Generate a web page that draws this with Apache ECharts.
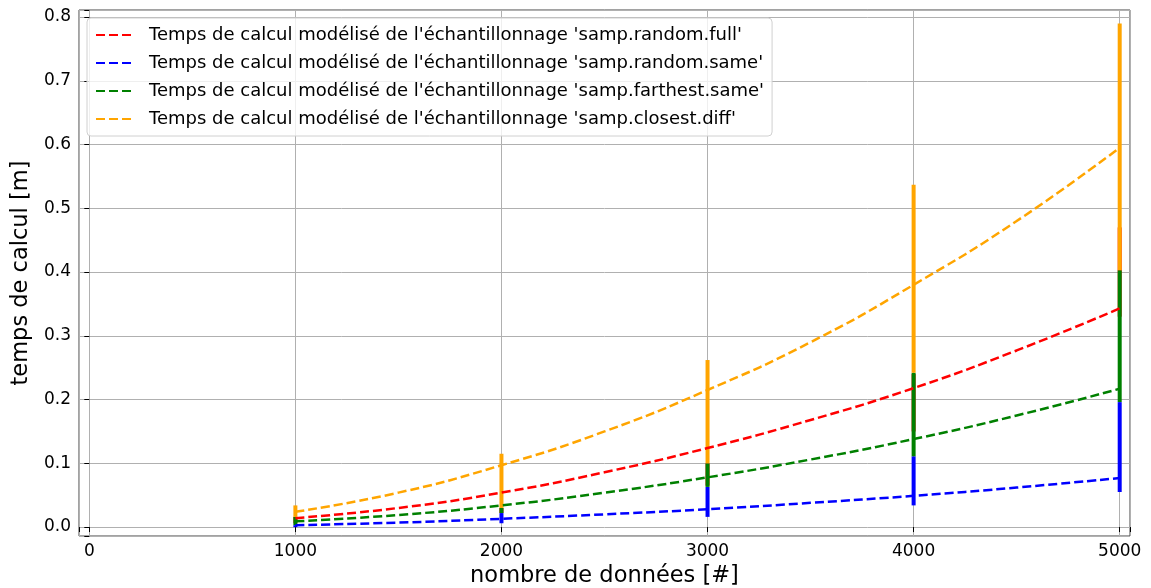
<!DOCTYPE html>
<html>
<head>
<meta charset="utf-8">
<script src="https://cdn.jsdelivr.net/npm/echarts@6/dist/echarts.min.js"></script>
<style>
  html, body { margin: 0; padding: 0; background: #fff; }
  #chart { width: 1151px; height: 588px; }
</style>
</head>
<body>
<div id="chart"></div>
<script>
// modelled curves, read every 500 points
const xModel = [1000, 1500, 2000, 2500, 3000, 3500, 4000, 4500, 5000];
const modelFull = [0.014, 0.030, 0.054, 0.086, 0.124, 0.168, 0.218, 0.277, 0.343];
const modelRandSame = [0.003, 0.007, 0.013, 0.020, 0.028, 0.038, 0.049, 0.062, 0.077];
const modelFarthest = [0.009, 0.019, 0.034, 0.054, 0.078, 0.106, 0.138, 0.175, 0.217];
const modelClosest = [0.024, 0.054, 0.097, 0.150, 0.215, 0.290, 0.380, 0.480, 0.595];

// measured points: [n, lowest, highest] per strip (red mostly hidden under the others)
const xMeas = [1000, 2000, 3000, 4000, 5000];
const measFull = [[0.006, 0.016], [0.022, 0.030], [0.065, 0.100], [0.150, 0.240], [0.330, 0.470]];
const measRandSame = [[0.000, 0.003], [0.006, 0.022], [0.016, 0.063], [0.034, 0.111], [0.055, 0.196]];
const measFarthest = [[0.003, 0.016], [0.022, 0.030], [0.063, 0.100], [0.111, 0.242], [0.196, 0.403]];
const measClosest = [[0.016, 0.034], [0.030, 0.115], [0.100, 0.262], [0.242, 0.537], [0.403, 0.790]];

const labels = [
  "Temps de calcul modélisé de l'échantillonnage 'samp.random.full'",
  "Temps de calcul modélisé de l'échantillonnage 'samp.random.same'",
  "Temps de calcul modélisé de l'échantillonnage 'samp.farthest.same'",
  "Temps de calcul modélisé de l'échantillonnage 'samp.closest.diff'"
];
const colors = ['#ff0000', '#0000ff', '#008000', '#ffa500'];

const chart = echarts.init(document.getElementById('chart'));
const font = 'DejaVu Sans';

function strip(name, ranges, color, z) {
  return {
    name: name,
    type: 'custom',
    z: z,
    data: xMeas.map((x, i) => [x, ranges[i][0], ranges[i][1]]),
    encode: { x: 0, y: [1, 2] },
    renderItem: function (params, api) {
      const lo = api.coord([api.value(0), api.value(1)]);
      const hi = api.coord([api.value(0), api.value(2)]);
      return {
        type: 'rect',
        shape: { x: lo[0] - 2, y: hi[1], width: 4, height: Math.max(lo[1] - hi[1], 2) },
        style: { fill: color }
      };
    }
  };
}

function curve(name, values, color) {
  return {
    name: name,
    type: 'line',
    z: 10,
    smooth: true,
    symbol: 'none',
    data: xModel.map((x, i) => [x, values[i]]),
    lineStyle: { color: color, width: 2.5, type: [9, 4] },
    itemStyle: { color: color }
  };
}

const keepTick = (v, step) => Math.abs(v / step - Math.round(v / step)) < 1e-6;

chart.setOption({
  animation: false,
  textStyle: { fontFamily: font },
  grid: {
    left: 79, right: 21, top: 10, bottom: 52,
    outerBoundsMode: 'none',
    show: true, borderColor: '#444', borderWidth: 1
  },
  legend: {
    data: labels,
    orient: 'vertical',
    left: 87,
    top: 18,
    itemWidth: 36,
    itemHeight: 14,
    itemGap: 10,
    padding: [8, 8, 8, 8],
    backgroundColor: 'rgba(255,255,255,0.8)',
    borderColor: '#d0d0d0',
    borderWidth: 1,
    borderRadius: 4,
    itemStyle: { opacity: 0 },
    textStyle: { fontFamily: font, fontSize: 18, color: '#000', padding: [0, 0, 0, 12] }
  },
  xAxis: {
    type: 'value',
    min: -50,
    max: 5050,
    splitNumber: 5,
    name: 'nombre de données [#]',
    nameLocation: 'middle',
    nameGap: 29,
    nameTextStyle: { fontFamily: font, fontSize: 22.5, color: '#000' },
    axisLine: { show: false },
    axisTick: { show: true, length: 5, lineStyle: { color: '#000' } },
    axisLabel: {
      fontFamily: font, fontSize: 17, color: '#000', margin: 7,
      formatter: v => keepTick(v, 1000) ? String(Math.round(v)) : ''
    },
    splitLine: { show: true, lineStyle: { color: '#b0b0b0', width: 1 } }
  },
  yAxis: {
    type: 'value',
    min: -0.014,
    max: 0.811,
    splitNumber: 8,
    name: 'temps de calcul [m]',
    nameLocation: 'middle',
    nameGap: 41,
    nameTextStyle: { fontFamily: font, fontSize: 22.5, color: '#000' },
    axisLine: { show: false },
    axisTick: { show: true, length: 5, lineStyle: { color: '#000' } },
    axisLabel: {
      fontFamily: font, fontSize: 17, color: '#000', margin: 8,
      formatter: v => keepTick(v, 0.1) ? v.toFixed(1) : ''
    },
    splitLine: { show: true, lineStyle: { color: '#b0b0b0', width: 1 } }
  },
  series: [
    strip('mesures full', measFull, colors[0], 2),
    strip('mesures random same', measRandSame, colors[1], 3),
    strip('mesures farthest same', measFarthest, colors[2], 4),
    strip('mesures closest diff', measClosest, colors[3], 5),
    curve(labels[0], modelFull, colors[0]),
    curve(labels[1], modelRandSame, colors[1]),
    curve(labels[2], modelFarthest, colors[2]),
    curve(labels[3], modelClosest, colors[3])
  ]
});
</script>
</body>
</html>
